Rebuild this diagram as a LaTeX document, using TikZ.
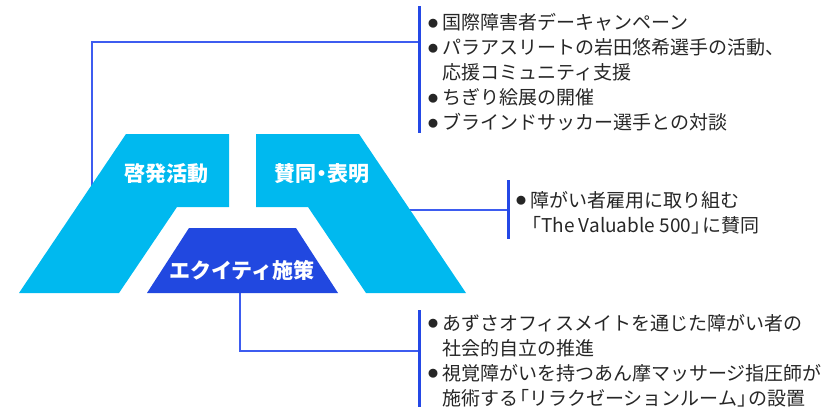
\documentclass[tikz,border=0pt]{standalone}
\usepackage{fontspec}
\setmainfont{Noto Sans CJK JP}
\definecolor{cyanblue}{HTML}{00B9EF}
\definecolor{deepblue}{HTML}{2148E0}
\definecolor{barblue}{HTML}{2448E6}
\definecolor{lineblue}{HTML}{3D5CF0}
\definecolor{txt}{HTML}{262626}
\newcommand\bulletitem{\makebox[14pt][l]{\raisebox{2.6pt}{\fontsize{10}{10}\selectfont ●}}}
\newcommand\contline{\hspace*{14pt}}
\begin{document}
\begin{tikzpicture}[x=1pt,y=-1pt,
  conn/.style={draw=lineblue, line width=1.5pt},
  bar/.style={draw=barblue, line width=3pt},
  title/.style={text=white, font=\fontsize{21}{25}\selectfont\bfseries, inner sep=0pt},
  items/.style={text=txt, font=\fontsize{19}{25}\selectfont, align=left, anchor=west, inner sep=0pt}]
\useasboundingbox (0,0) rectangle (836,410);

% coordinates
\coordinate (topbarT) at (419,6);
\coordinate (topbarB) at (419,133);
\coordinate (midbarT) at (508,180);
\coordinate (midbarB) at (508,239);
\coordinate (botbarT) at (419,310);
\coordinate (botbarB) at (419,407);
\coordinate (leftIn) at (92,200);
\coordinate (leftCorner) at (92,42);
\coordinate (topJoin) at (419,42);
\coordinate (rightIn) at (400,210);
\coordinate (midJoin) at (508,210);
\coordinate (botIn) at (240,285);
\coordinate (botCorner) at (240,351);
\coordinate (botJoin) at (419,351);

% connectors (drawn beneath the shapes)
\draw[conn] (leftIn) -- (leftCorner) -- (topJoin);
\draw[conn] (rightIn) -- (midJoin);
\draw[conn] (botIn) -- (botCorner) -- (botJoin);

% bars
\draw[bar] (topbarT) -- (topbarB);
\draw[bar] (midbarT) -- (midbarB);
\draw[bar] (botbarT) -- (botbarB);

% shapes
\fill[cyanblue] (126,134) -- (229,134) -- (229,207) -- (177,207) -- (119,293) -- (19,293) -- cycle;
\fill[cyanblue] (256,134) -- (359,134) -- (466,293) -- (366,293) -- (308,207) -- (256,207) -- cycle;
\fill[deepblue] (189,228) -- (296,228) -- (338,293) -- (147,293) -- cycle;

% titles
\node[title] (keihatsu) at (166,174) {啓発活動};
\node[title] (sando) at (322,174) {賛同\hspace{-5pt}・\hspace{-5pt}表明};
\node[title] (equity) at (242,270) {エクイティ施策};

% item texts
\node[items] (topitems) at (428,72.5) {\bulletitem 国際障害者デーキャンペーン\\
\bulletitem パラアスリートの岩田悠希選手の活動、\\
\contline 応援コミュニティ支援\\
\bulletitem ちぎり絵展の開催\\
\bulletitem ブラインドサッカー選手との対談};
\node[items] (miditems) at (516,212.5) {\bulletitem 障がい者雇用に取り組む\\
\hspace*{6pt}「The Valuable 500」\hspace{-8pt}に賛同};
\node[items] (botitems) at (428,360.5) {\bulletitem あずさオフィスメイトを通じた障がい者の\\
\contline 社会的自立の推進\\
\bulletitem 視覚障がいを持つあん摩マッサージ指圧師が\\
\contline 施術する\hspace{-8pt}「リラクゼーションルーム」\hspace{-8pt}の設置};
\end{tikzpicture}
\end{document}
